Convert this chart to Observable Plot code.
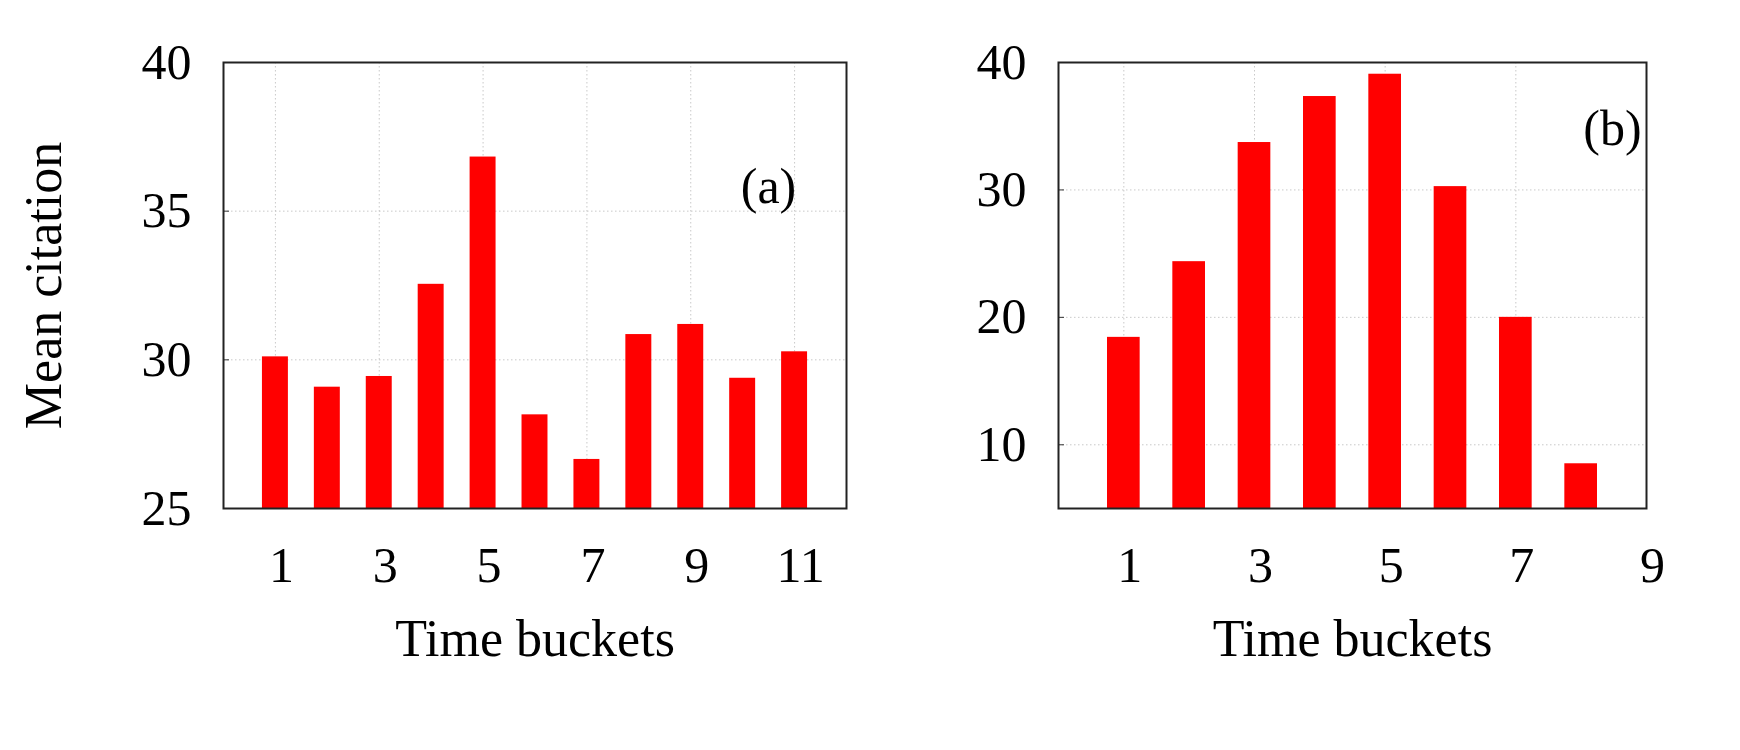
<!DOCTYPE html>
<html><head><meta charset="utf-8">
<script src="https://cdn.jsdelivr.net/npm/d3@7"></script>
<script src="https://cdn.jsdelivr.net/npm/@observablehq/plot@0.6"></script>
<style>
body{margin:0;background:#fff;}
#wrap{position:relative;width:1740px;height:750px;overflow:hidden;background:#fff;}
#wrap svg{position:absolute;top:0;}
</style></head><body><div id="wrap"></div>
<script>
// Panel (a)
const bucketsA = [1, 2, 3, 4, 5, 6, 7, 8, 9, 10, 11];
const valuesA = [30.10, 29.08, 29.44, 32.54, 36.82, 28.15, 26.65, 30.85, 31.19, 29.38, 30.27];
const xTicksA = [1, 3, 5, 7, 9, 11];
const yTicksA = [25, 30, 35, 40];
const xDomainA = [0, 12];
const yDomainA = [25, 40];
// Panel (b)
const bucketsB = [1, 2, 3, 4, 5, 6, 7, 8];
const valuesB = [18.43, 24.37, 33.72, 37.33, 39.08, 30.26, 20.0, 8.51];
const xTicksB = [1, 3, 5, 7, 9];
const yTicksB = [10, 20, 30, 40];
const xDomainB = [0, 9];
const yDomainB = [5, 40];

const yTitle = "Mean citation";
const xTitle = "Time buckets";

const FONT = "Liberation Serif, Times New Roman, serif";

function panel({buckets, values, xTicks, yTicks, xDomain, yDomain, tag, marginLeft, marginRight, tagDx, tagDy, showYTitle}) {
  const data = buckets.map((b, i) => ({b, v: values[i]}));
  const marks = [
    Plot.gridX(xTicks, {stroke: "#bbb", strokeOpacity: 0.8, strokeDasharray: "1.5,2.5", strokeWidth: 1}),
    Plot.gridY(yTicks, {stroke: "#bbb", strokeOpacity: 0.8, strokeDasharray: "1.5,2.5", strokeWidth: 1}),
    Plot.rectY(data, {x1: d => d.b - 0.25, x2: d => d.b + 0.25, y1: yDomain[0], y2: "v", fill: "#ff0000"}),
    Plot.axisY({ticks: yTicks, tickSize: 0, tickPadding: 32, fontSize: 50, label: null, fill: "#000"}),
    Plot.axisY({ticks: yTicks, tickSize: 6, tickFormat: () => "", dx: 6, stroke: "#333", label: null}),
    Plot.axisX({ticks: xTicks, tickSize: 0, tickPadding: 38, dx: 6, fontSize: 50, label: null, fill: "#000"}),
    Plot.frame({stroke: "#222", strokeWidth: 2}),
    Plot.text([xTitle], {text: d => d, frameAnchor: "bottom", dy: 147, textAnchor: "middle", fontSize: 52, fill: "#000"}),
    Plot.text([tag], {text: d => d, frameAnchor: "top-right", dx: tagDx, dy: tagDy, textAnchor: "middle", fontSize: 50, fill: "#000"})
  ];
  if (showYTitle) {
    marks.push(Plot.text([yTitle], {text: d => d, frameAnchor: "left", dx: -179, rotate: -90, textAnchor: "middle", fontSize: 52, fill: "#000"}));
  }
  return Plot.plot({
    width: 870,
    height: 750,
    marginLeft, marginRight,
    marginTop: 62,
    marginBottom: 242,
    style: {fontFamily: FONT, background: "transparent", overflow: "visible"},
    x: {domain: xDomain},
    y: {domain: yDomain},
    marks
  });
}

const wrap = document.getElementById("wrap");
const a = panel({buckets: bucketsA, values: valuesA, xTicks: xTicksA, yTicks: yTicksA, xDomain: xDomainA, yDomain: yDomainA,
  tag: "(a)", marginLeft: 223, marginRight: 24, tagDx: -78, tagDy: 105, showYTitle: true});
a.style.left = "0px";
wrap.appendChild(a);
const b = panel({buckets: bucketsB, values: valuesB, xTicks: xTicksB, yTicks: yTicksB, xDomain: xDomainB, yDomain: yDomainB,
  tag: "(b)", marginLeft: 188, marginRight: 94, tagDx: -34, tagDy: 47, showYTitle: false});
b.style.left = "870px";
wrap.appendChild(b);
</script></body></html>
